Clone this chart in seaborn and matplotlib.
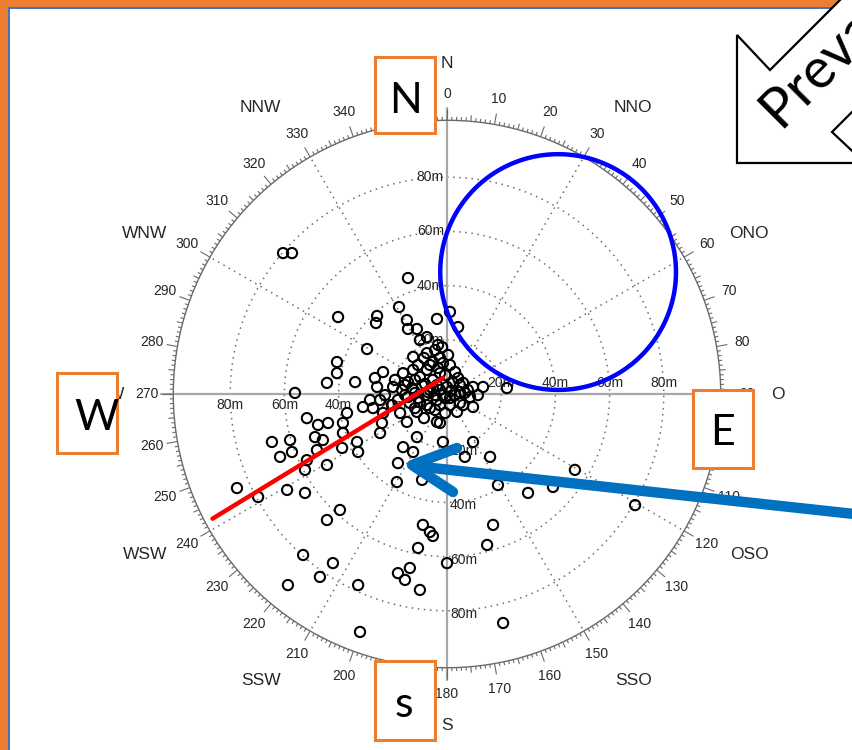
import numpy as np
import pandas as pd
import matplotlib
matplotlib.use("Agg")
import matplotlib.pyplot as plt
import seaborn as sns
from matplotlib.patches import Rectangle, Polygon
from matplotlib.lines import Line2D
from matplotlib.transforms import offset_copy

# Displacement of each observation from the reference point (metres east / north)
east_m = [
    -60.5, -57.2, -14.4, -17.7, -40.2, -25.8, -26.2, -14.8, -3.7, -14.4,
    -11.1, -7.4, -10.0, -3.3, -1.8, -29.5, -12.5, -7.4, -5.2, -2.6,
    -40.6, -40.6, -44.3, -33.9, -23.6, -26.6, -16.2, -12.5, -14.4, -10.0,
    -7.4, -5.2, -2.6, 0.0, 2.2, -56.1, -25.8, -19.9, -28.4, -24.7,
    1.1, 4.1, -1.5, 5.9, 9.6, 13.3, 1.6, -2.6, 22.1, -51.7,
    -47.6, -43.9, -38.4, -36.9, -31.0, -27.3, -23.6, -17.3, -11.1, -7.4,
    -3.7, -64.6, -57.9, -61.6, -57.2, -48.7, -45.8, -51.7, -48.0, -38.4,
    -38.7, -33.2, -32.8, -24.7, -24.0, -14.8, -3.7, -44.3, -52.4, -16.2,
    -12.5, -11.1, -1.5, -18.1, -18.5, -9.2, -77.5, -69.7, -59.0, -52.4,
    -39.5, -44.3, -8.9, -6.3, -5.2, -10.7, -53.1, -42.1, -46.9, -58.7,
    -32.8, -18.1, -13.7, -15.5, -10.0, 0.0, -32.1, 5.9, 9.6, -2.6,
    9.6, 6.6, 15.9, 18.8, 29.9, 39.1, 47.2, 69.4, 17.0, 14.8,
    20.7, -6.3, -4.4, -8.1, -11.8, -15.5, -18.1, -13.7, -10.0, -0.7,
    3.0, 4.8, -5.2, -9.2, -12.9, -16.6, -10.7, -3.3, -0.7, 3.0,
    1.1, 4.1, 6.6, 8.5, 1.1, 3.7, -0.7, -4.4, -8.5, -7.0,
    -10.7, -14.4, -1.5, 1.1, -3.7, -8.1, -11.8, -15.5, -19.2, -6.3,
    -8.5, 0.4, -4.4, 4.8, 7.7, 11.4, 4.8, -2.6, -6.3, -11.8,
    -20.3, -22.9,
]
north_m = [
    52.0, 52.0, 42.8, 32.1, 28.4, 28.8, 26.2, 27.3, 27.7, 24.0,
    24.0, 21.0, 19.9, 18.1, 17.3, 16.6, 13.7, 15.1, 11.8, 13.3,
    11.8, 7.7, 4.1, 4.4, 8.1, 5.9, 7.7, 8.9, 4.4, 6.3,
    8.9, 5.2, 7.7, 2.6, 4.1, 0.4, 2.6, 2.6, -2.2, -2.2,
    30.3, 24.7, 11.4, 4.1, 2.6, 2.6, 1.2, 1.5, 2.2, -8.9,
    -11.4, -10.7, -10.7, -7.0, -4.8, -5.2, -7.0, -7.0, -6.6, -4.1,
    -2.2, -17.7, -17.0, -23.2, -21.4, -15.9, -17.0, -24.4, -20.7, -14.4,
    -19.9, -17.7, -21.4, -14.4, -10.7, -10.3, -10.3, -26.2, -28.0, -19.6,
    -21.4, -15.9, -17.7, -25.5, -32.5, -31.7, -34.7, -38.0, -35.4, -36.5,
    -42.8, -46.5, -48.3, -50.9, -52.4, -56.8, -59.4, -62.4, -67.5, -70.5,
    -70.5, -66.1, -64.2, -68.6, -72.3, -62.4, -87.8, -4.1, -4.8, -10.7,
    -17.7, -23.2, -23.2, -33.6, -36.5, -34.3, -28.0, -41.0, -48.3, -55.7,
    -84.5, 1.5, -0.4, -0.4, 0.4, -0.4, -2.2, -3.3, -3.0, -1.5,
    -0.4, 0.7, 2.2, 3.3, 2.2, 1.5, 10.7, 9.6, 7.0, 8.1,
    10.7, 5.9, 0.4, -1.1, -4.1, -6.6, -7.0, -5.9, -8.9, 0.7,
    -1.5, -1.1, -0.4, -1.5, 3.3, 3.7, 5.2, 3.3, 5.2, 10.7,
    13.3, 14.4, 16.2, 3.3, 1.5, -0.4, -3.3, -4.1, -5.2, -5.2,
    -4.1, -0.4,
]

ring_dist_m = [20, 40, 60, 80]
outer_dist_m = 101
degree_labels = list(range(0, 360, 10))
compass_names = ["N", "NNO", "ONO", "O", "OSO", "SSO", "S", "SSW", "WSW", "W", "WNW", "NNW"]
compass_bearing = [0, 33, 62, 90, 118, 147, 180, 213, 242, 270, 298, 327]

# Main drift axis (bearing in degrees, distance in metres)
trend_bearing_deg = [346, 242]
trend_dist_m = [6.1, 98]

# Upwind zone outline (centre east / north and radius, metres)
zone_center_east_m = 41
zone_center_north_m = 45
zone_radius_m = 43.5

sns.set_style("white")
plt.rcParams["font.family"] = ["Liberation Sans", "DejaVu Sans"]

W, H = 853, 750
fig = plt.figure(figsize=(W / 100, H / 100), dpi=100)
fig.patch.set_facecolor("white")


def fx(x):
    return x / W


def fy(y):
    return 1 - y / H


# polar panel: centre pixel and pixel scale
CX, CY = 447, 394
PX_PER_M = 2.71
R_PX = 350
ax = fig.add_axes([(CX - R_PX) / W, (H - CY - R_PX) / H, 2 * R_PX / W, 2 * R_PX / H],
                  projection="polar")
ax.set_theta_zero_location("N")
ax.set_theta_direction(-1)
r_max = R_PX / PX_PER_M
ax.set_ylim(0, r_max)
ax.axis("off")

grid_col = "#6e6e6e"
text_col = "#262626"
full = np.linspace(0, 2 * np.pi, 721)

# dotted range rings and spokes
for r in ring_dist_m:
    ax.plot(full, np.full_like(full, r), ls=(0, (1, 3)), color=grid_col, lw=1.1, zorder=1)
for b in range(30, 360, 30):
    if b % 90:
        ax.plot([np.deg2rad(b)] * 2, [0, outer_dist_m], ls=(0, (1, 3)), color=grid_col,
                lw=1.1, zorder=1)

# solid cardinal axes
for b in (0, 90, 180, 270):
    ax.plot([np.deg2rad(b)] * 2, [0, outer_dist_m + 12 / PX_PER_M], color="#a8a8a8",
            lw=1.6, zorder=1)

# outer compass ring with degree ticks
ax.plot(full, np.full_like(full, outer_dist_m), color="#6a6a6a", lw=1.0, zorder=2)
deg = np.arange(360)
tick_len = np.where(deg % 10 == 0, 11, np.where(deg % 5 == 0, 6, 3.5)) / PX_PER_M
ax.vlines(np.deg2rad(deg), outer_dist_m, outer_dist_m + tick_len, color="#6a6a6a",
          lw=0.8, zorder=2)

for d in degree_labels:
    ax.text(np.deg2rad(d), 300 / PX_PER_M, str(d), ha="center", va="center",
            fontsize=10, color=text_col, zorder=3)

for name, b in zip(compass_names, compass_bearing):
    r_lab = (331 if b % 90 == 0 else 342) / PX_PER_M
    ax.text(np.deg2rad(b), r_lab, name, ha="center", va="center", fontsize=12.5,
            color=text_col, zorder=3)

# range ring labels along the four axes
for r in ring_dist_m:
    lab = f"{r}m"
    ax.text(0, r, lab, ha="right", va="center", fontsize=10, color=text_col, zorder=3,
            transform=offset_copy(ax.transData, fig=fig, x=-3, y=0, units="dots"))
    ax.text(np.pi, r, lab, ha="left", va="center", fontsize=10, color=text_col, zorder=3,
            transform=offset_copy(ax.transData, fig=fig, x=3, y=-3, units="dots"))
    ax.text(1.5 * np.pi, r, lab, ha="center", va="top", fontsize=10, color=text_col,
            zorder=3, transform=offset_copy(ax.transData, fig=fig, x=0, y=-4, units="dots"))
    ax.text(0.5 * np.pi, r, lab, ha="center", va="bottom", fontsize=10, color=text_col,
            zorder=3, transform=offset_copy(ax.transData, fig=fig, x=0, y=4, units="dots"))

# observations
east = np.asarray(east_m)
north = np.asarray(north_m)
df = pd.DataFrame({"theta": np.arctan2(east, north), "r": np.hypot(east, north)})
sns.scatterplot(data=df, x="theta", y="r", ax=ax, marker="o", s=54, linewidth=1.5,
                legend=False, zorder=4)
pts = ax.collections[-1]
pts.set_facecolor("none")
pts.set_edgecolor("black")
pts.set_linewidth(1.5)

# upwind zone outline
t = np.linspace(0, 2 * np.pi, 721)
zx = zone_center_east_m + zone_radius_m * np.cos(t)
zy = zone_center_north_m + zone_radius_m * np.sin(t)
ax.plot(np.arctan2(zx, zy), np.hypot(zx, zy), color="#0000ff", lw=3.2, zorder=5)

# drift axis
ax.plot(np.deg2rad(trend_bearing_deg), trend_dist_m, color="#ff0000", lw=3.2,
        solid_capstyle="round", zorder=6)

ax.set_ylim(0, r_max)
ax.set_xlim(0, 2 * np.pi)

# slide frame
orange = "#ED7D31"
fig.add_artist(Rectangle((0, 0), fx(8), 1, transform=fig.transFigure, fc=orange,
                         ec="none", zorder=20))
fig.add_artist(Rectangle((0, fy(7)), 1, 7 / H, transform=fig.transFigure, fc=orange,
                         ec="none", zorder=20))
fig.add_artist(Rectangle((fx(8), 0), 2 / W, fy(7), transform=fig.transFigure,
                         fc="#4472C4", ec="none", zorder=20))
fig.add_artist(Rectangle((fx(8), fy(9)), 1, 2 / H, transform=fig.transFigure,
                         fc="#4472C4", ec="none", zorder=20))

# prevailing wind block arrow
arrow_px = [(737, 163), (737, 35), (770, 70), (990, -150), (1052, -88), (832, 132),
            (865, 163)]
fig.add_artist(Polygon([(fx(x), fy(y)) for x, y in arrow_px], closed=True,
                       transform=fig.transFigure, fc="white", ec="black", lw=1.6,
                       zorder=21))
fig.text(fx(771), fy(121), "Prevailing wind", rotation=45, rotation_mode="anchor",
         ha="left", va="center", fontsize=40, family=["Lato", "DejaVu Sans"],
         color="black", zorder=22)

# cardinal callout boxes
boxes = [("N", (375, 57, 435, 133), (406, 113)),
         ("W", (57, 373, 117, 453), (97, 430)),
         ("E", (693, 390, 753, 468), (723, 445)),
         ("s", (375, 661, 435, 740), (404, 717))]
for lab, (x0, y0, x1, y1), (tx, ty) in boxes:
    fig.add_artist(Rectangle((fx(x0), fy(y1)), (x1 - x0) / W, (y1 - y0) / H,
                             transform=fig.transFigure, fc="white", ec=orange, lw=2.2,
                             zorder=30))
    fig.text(fx(tx), fy(ty), lab, ha="center", va="baseline", fontsize=31,
             family=["Lato", "DejaVu Sans"], color="black", zorder=31)

# pointer arrow
blue = "#0070C0"
fig.add_artist(Line2D([fx(900), fx(414)], [fy(519), fy(466)], lw=7.5, color=blue,
                      solid_capstyle="butt", transform=fig.transFigure, zorder=35))
fig.add_artist(Line2D([fx(457), fx(412), fx(453)], [fy(448), fy(465), fy(492)], lw=7.5,
                      color=blue, solid_capstyle="round", solid_joinstyle="round",
                      transform=fig.transFigure, zorder=35))

fig.savefig("out.png", dpi=100, facecolor="white")
